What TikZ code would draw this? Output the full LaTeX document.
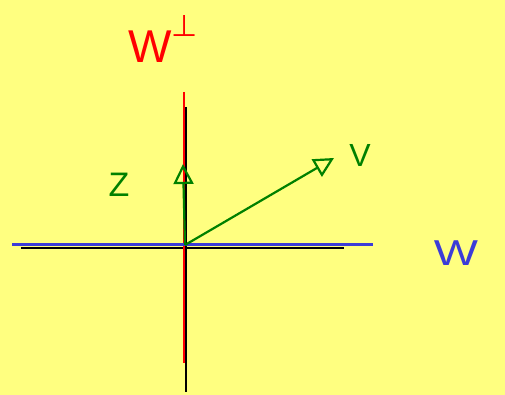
\documentclass[tikz,border=0pt]{standalone}
\usepackage{fontspec}
\setmainfont{Liberation Sans}
\newfontfamily\djv{DejaVu Sans}
\usetikzlibrary{arrows.meta}
\definecolor{bgyel}{RGB}{255,255,128}
\definecolor{grn}{RGB}{0,128,0}
\definecolor{blu}{RGB}{60,60,215}
\definecolor{rd}{RGB}{255,0,0}
\begin{document}
\begin{tikzpicture}[x=1pt,y=-1pt,
  axis/.style={line width=2.4pt},
  vec/.style={grn,line width=2.2pt,-{Triangle[open,length=20pt,width=20pt,line width=2.2pt]}},
  lbl/.style={inner sep=0pt,anchor=center}]
\fill[bgyel] (0,0) rectangle (505,395);
\useasboundingbox (0,0) rectangle (505,395);
% black axes
\coordinate (hl) at (21,248);
\coordinate (hr) at (344,248);
\coordinate (vt) at (186,107);
\coordinate (vb) at (186,392);
\draw[axis,black] (hl) -- (hr);
\draw[axis,black] (vt) -- (vb);
% red W-perp line
\coordinate (rt) at (184,92);
\coordinate (rb) at (184,363);
\draw[rd,line width=2.8pt] (rt) -- (rb);
% blue W line
\coordinate (bl) at (12,244.5);
\coordinate (br) at (373,244.5);
\draw[blu,line width=2.2pt] (bl) -- (br);
% vectors
\coordinate (O) at (185,245);
\coordinate (vtip) at (334,158);
\coordinate (ztip) at (183,164);
\draw[vec] (O) -- (vtip);
\draw[vec] (O) -- (ztip);
% labels
\node[lbl,rd,font=\fontsize{46}{46}\selectfont,anchor=base west] (wperp) at (128,63) {W\raisebox{26pt}{\djv\fontsize{30}{30}\selectfont ⊥}};
\node[lbl,grn,font=\fontsize{34}{34}\selectfont] (zl) at (119,185) {Z};
\node[lbl,grn,font=\fontsize{32}{32}\selectfont] (vl) at (360,155) {V};
\node[lbl,blu,font=\fontsize{36}{36}\selectfont,xscale=1.3] (wl) at (456,253) {W};
\end{tikzpicture}
\end{document}
